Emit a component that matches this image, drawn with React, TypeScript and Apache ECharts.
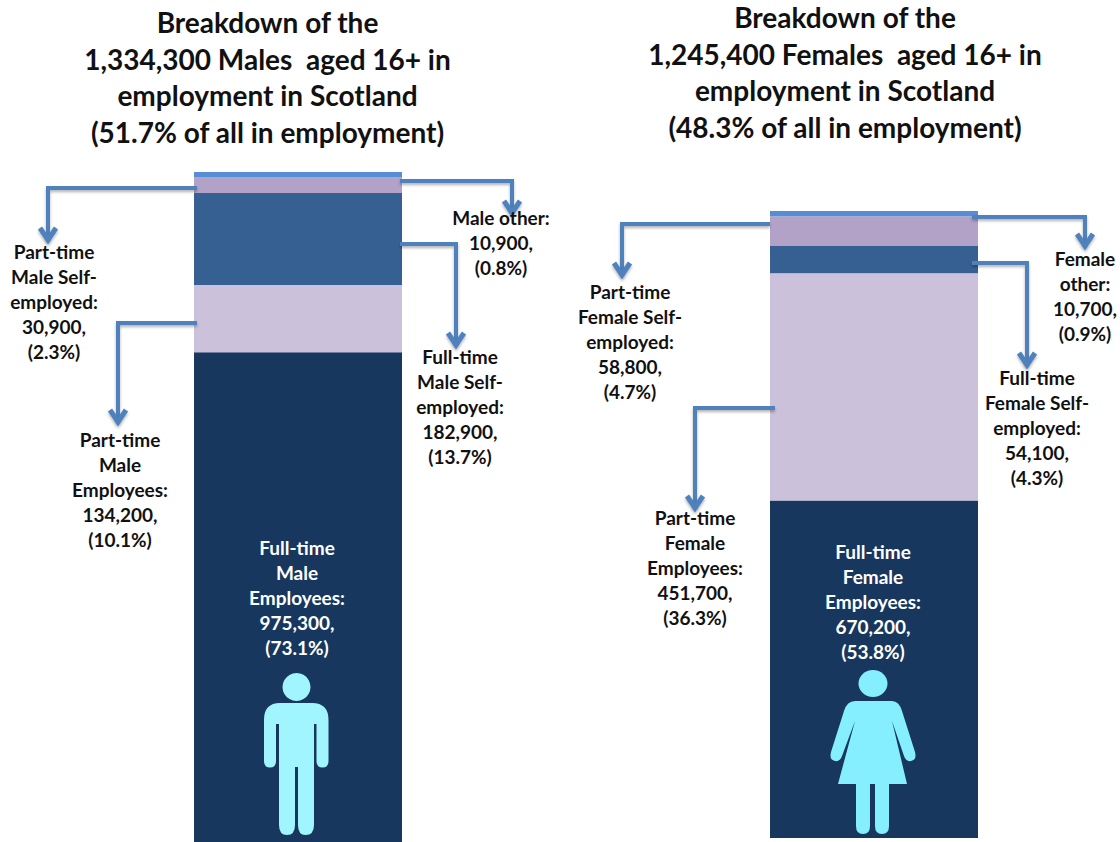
import React, { useEffect, useRef } from "react";
import * as echarts from "echarts";

const segments = ["Full-time Employees", "Part-time Employees", "Full-time Self-employed", "Part-time Self-employed", "Other"];
const maleValues = [975300, 134200, 182900, 30900, 10900];
const femaleValues = [670200, 451700, 54100, 58800, 10700];
const segmentColors = ["#17375e", "#ccc1da", "#376092", "#b3a2c7", "#558ed5"];
const maleTotal = 1334300;
const femaleTotal = 1245400;

const maleTitle = "Breakdown of the\n1,334,300 Males  aged 16+ in\nemployment in Scotland\n(51.7% of all in employment)";
const femaleTitle = "Breakdown of the\n1,245,400 Females  aged 16+ in\nemployment in Scotland\n(48.3% of all in employment)";

const maleLabels = [
  "Full-time\nMale\nEmployees:\n975,300,\n(73.1%)",
  "Part-time\nMale\nEmployees:\n134,200,\n(10.1%)",
  "Full-time\nMale Self-\nemployed:\n182,900,\n(13.7%)",
  "Part-time\nMale Self-\nemployed:\n30,900,\n(2.3%)",
  "Male other:\n10,900,\n(0.8%)",
];
const femaleLabels = [
  "Full-time\nFemale\nEmployees:\n670,200,\n(53.8%)",
  "Part-time\nFemale\nEmployees:\n451,700,\n(36.3%)",
  "Full-time\nFemale Self-\nemployed:\n54,100,\n(4.3%)",
  "Part-time\nFemale Self-\nemployed:\n58,800,\n(4.7%)",
  "Female\nother:\n10,700,\n(0.9%)",
];

const FONT = "Lato, 'Open Sans', sans-serif";
const ARROW = "#4f81bd";
const INK = "#111111";

const MAN = "M280 703 L312 703 Q328.5 703 328.5 720 L328.5 761 Q328.5 767.5 322.5 767.5 Q316.5 767.5 316.5 761 L316.5 724 L314 724 L314 825 Q314 835 305.5 835 Q298 835 298 825 L298 767 L295 767 L295 825 Q295 835 287 835 Q279 835 279 825 L279 724 L276 724 L276 761 Q276 767.5 270 767.5 Q264 767.5 264 761 L264 720 Q264 703 280 703 Z";
const WOMAN = "M855 701 L892 701 Q899 701 902 711 L915 752 Q917 760 911 761 Q906 762 904 756 L892 721 L907 784 L889 784 L889 826 Q889 834 882 834 Q875 834 875 826 L875 784 L870 784 L870 826 Q870 834 863 834 Q856 834 856 826 L856 784 L838 784 L855 721 L842 756 Q840 762 835 761 Q829 760 831 752 L844 711 Q847 701 855 701 Z";
echarts.graphic.registerShape("manIcon", (echarts.graphic as any).extendPath(MAN, {}));
echarts.graphic.registerShape("womanIcon", (echarts.graphic as any).extendPath(WOMAN, {}));

function arrow(points: number[][]) {
  const tip = points[points.length - 1];
  const shadow = { shadowColor: "rgba(0,0,0,0.3)", shadowBlur: 3, shadowOffsetY: 2 };
  return [
    { type: "polyline", silent: true, z: 10, shape: { points }, style: { stroke: ARROW, lineWidth: 4, fill: "none", ...shadow } },
    {
      type: "polyline",
      silent: true,
      z: 10,
      shape: { points: [[tip[0] - 8, tip[1] - 12], [tip[0], tip[1]], [tip[0] + 8, tip[1] - 12]] },
      style: { stroke: ARROW, lineWidth: 5, fill: "none", ...shadow },
    },
  ];
}

function text(value: string, x: number, y: number, size: number, lineHeight: number, fill: string) {
  return {
    type: "text",
    silent: true,
    z: 11,
    x,
    y,
    style: { text: value, fill, font: `bold ${size}px ${FONT}`, lineHeight, align: "center", verticalAlign: "top" },
  };
}

function barSeries(values: number[], index: number, stack: string) {
  return values.map((v, i) => ({
    name: segments[i],
    type: "bar",
    stack,
    xAxisIndex: index,
    yAxisIndex: index,
    barWidth: "100%",
    data: [v],
    itemStyle: { color: segmentColors[i] },
    silent: true,
  }));
}

export default function App() {
  const ref = useRef<HTMLDivElement>(null);
  useEffect(() => {
    document.body.style.margin = "0";
    const chart = echarts.init(ref.current!, null, { renderer: "svg" });
    const axisOff = { show: false };
    chart.setOption({
      animation: false,
      backgroundColor: "#ffffff",
      grid: [
        { left: 194, top: 172, width: 208, height: 670 },
        { left: 770, top: 211, width: 208, height: 627 },
      ],
      xAxis: [
        { type: "category", data: ["Males"], gridIndex: 0, ...axisOff },
        { type: "category", data: ["Females"], gridIndex: 1, ...axisOff },
      ],
      yAxis: [
        { type: "value", min: 0, max: maleTotal, gridIndex: 0, ...axisOff },
        { type: "value", min: 0, max: femaleTotal, gridIndex: 1, ...axisOff },
      ],
      series: [...barSeries(maleValues, 0, "male"), ...barSeries(femaleValues, 1, "female")],
      graphic: {
        elements: [
          text(maleTitle, 267.5, 4, 28, 36.5, INK),
          text(femaleTitle, 845, -1, 28, 36.5, INK),
          ...arrow([[197, 188], [48, 188], [48, 240]]),
          ...arrow([[400, 181], [512, 181], [512, 213]]),
          ...arrow([[197, 323], [118, 323], [118, 422]]),
          ...arrow([[400, 244], [456, 244], [456, 345]]),
          ...arrow([[770, 224], [622, 224], [622, 275]]),
          ...arrow([[972, 217], [1085, 217], [1085, 246]]),
          ...arrow([[775, 408], [695, 408], [695, 508]]),
          ...arrow([[972, 263], [1027, 263], [1027, 365]]),
          text(maleLabels[0], 297, 535, 19, 25, "#ffffff"),
          text(maleLabels[1], 120, 427, 19, 25, INK),
          text(maleLabels[2], 460, 344, 19, 25, INK),
          text(maleLabels[3], 54, 239, 19, 25, INK),
          text(maleLabels[4], 501, 205, 19, 25, INK),
          text(femaleLabels[0], 873, 539, 19, 25, "#ffffff"),
          text(femaleLabels[1], 695, 505, 19, 25, INK),
          text(femaleLabels[2], 1037, 365, 19, 25, INK),
          text(femaleLabels[3], 630, 279, 19, 25, INK),
          text(femaleLabels[4], 1085, 246, 19, 25, INK),
          { type: "circle", silent: true, z: 11, shape: { cx: 296.5, cy: 687, r: 14 }, style: { fill: "#a0f5ff" } },
          { type: "manIcon", silent: true, z: 11, x: 0, y: 0, style: { fill: "#a0f5ff" } },
          { type: "ellipse", silent: true, z: 11, shape: { cx: 873, cy: 683.5, rx: 14.5, ry: 13.5 }, style: { fill: "#85eeff" } },
          { type: "womanIcon", silent: true, z: 11, x: 0, y: 0, style: { fill: "#85eeff" } },
        ],
      },
    });
    return () => chart.dispose();
  }, []);
  return <div ref={ref} style={{ width: 1120, height: 842 }} />;
}
